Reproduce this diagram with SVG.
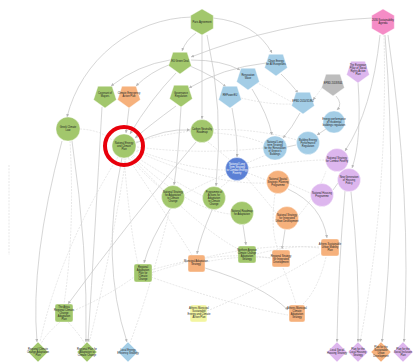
<svg xmlns="http://www.w3.org/2000/svg" width="414" height="364" viewBox="0 0 414 364">
<defs>
<style>
.g{fill:#a2c76c}.o{fill:#f6b17c}.b{fill:#a3cde6}.db{fill:#5b80d5}.p{fill:#ddb6ee}.pk{fill:#f58cc6}.gr{fill:#bdbdbd}.y{fill:#f3f5a0}
.node>circle,.node>polygon,.node>rect{stroke:#fff;stroke-width:.4}
.t{font-family:"Liberation Sans",Arial,sans-serif;font-size:2.6px;fill:#222;text-anchor:middle}
.w{fill:#fff}
.e{fill:none;stroke:#c4c4c4;stroke-width:.7}
.d{fill:none;stroke:#d6d6d6;stroke-width:.6;stroke-dasharray:2 1.2}
</style>
<marker id="a" viewBox="0 0 4 4" refX="4" refY="2" markerWidth="3" markerHeight="3" orient="auto" markerUnits="userSpaceOnUse"><path d="M0,0 L4,2 L0,4 z" fill="#b5b5b5"/></marker>
</defs>
<rect width="414" height="364" fill="#fff"/>
<g id="connectors">
<path class="d" d="M9,165 L9,255"/>
<path class="e" marker-end="url(#a)" d="M192,17 A132,132 0 0 0 67,117"/>
<path class="e" marker-end="url(#a)" d="M196,33 Q186,40 182,51"/>
<path class="e" marker-end="url(#a)" d="M213,18 Q255,22 272,53"/>
<path class="e" marker-end="url(#a)" d="M202,35 L202,119"/>
<path class="e" marker-end="url(#a)" d="M207,35 Q224,110 216,186"/>
<path class="e" marker-end="url(#a)" d="M372,18 Q280,22 191,57"/>
<path class="e" marker-end="url(#a)" d="M380,35 Q372,110 345,151"/>
<path class="e" marker-end="url(#a)" d="M385,35 Q398,200 382,342"/>
<path class="e" marker-end="url(#a)" d="M388,35 Q412,200 404,342"/>
<path class="d" marker-end="url(#a)" d="M384,35 Q388,200 360,342"/>
<path class="e" marker-end="url(#a)" d="M170,60 Q138,65 111,86"/>
<path class="e" marker-end="url(#a)" d="M171,64 Q150,72 136,86"/>
<path class="e" marker-end="url(#a)" d="M191,60 Q222,60 240,70"/>
<path class="e" marker-end="url(#a)" d="M190,66 Q214,76 226,87"/>
<path class="e" marker-end="url(#a)" d="M176,73 Q150,100 130,134"/>
<path class="e" marker-end="url(#a)" d="M266,63 Q222,68 189,88"/>
<path class="e" marker-end="url(#a)" d="M281,74 Q293,86 298,93"/>
<path class="d" marker-end="url(#a)" d="M322,88 Q316,96 313,100"/>
<path class="e" marker-end="url(#a)" d="M336,96 Q343,104 337,110"/>
<path class="e" marker-end="url(#a)" d="M300,113 Q292,128 283,138"/>
<path class="e" marker-end="url(#a)" d="M358,82 Q362,140 352,168"/>
<path class="e" marker-end="url(#a)" d="M62,141 Q30,260 37,342"/>
<path class="e" marker-end="url(#a)" d="M72,141 Q88,250 86,342"/>
<path class="e" marker-end="url(#a)" d="M122,158 Q100,260 127,342"/>
<path class="e" marker-end="url(#a)" d="M102,107 Q95,230 88,342"/>
<path class="e" marker-end="url(#a)" d="M129,108 L126,133"/>
<path class="e" marker-end="url(#a)" d="M196,142 Q130,220 68,304"/>
<path class="e" d="M287,147 L296,145"/>
<path class="e" marker-end="url(#a)" d="M326,129 L317,135"/>
<path class="e" d="M338,183 L333,190"/>
<path class="e" d="M344,170 L345,171"/>
<path class="e" marker-end="url(#a)" d="M345,191 Q338,270 337,342"/>
<path class="e" marker-end="url(#a)" d="M351,192 Q360,270 358,342"/>
<path class="e" marker-end="url(#a)" d="M288,189 Q322,205 327,238"/>
<path class="e" marker-end="url(#a)" d="M285,230 L282,249"/>
<path class="e" marker-end="url(#a)" d="M205,268 Q262,285 288,310"/>
<path class="e" marker-end="url(#a)" d="M170,209 Q150,240 144,263"/>
<path class="e" marker-end="url(#a)" d="M212,210 Q200,238 197,254"/>
<path class="e" marker-end="url(#a)" d="M243,225 L246,245"/>
<path class="e" marker-end="url(#a)" d="M176,106 Q150,125 135,138"/>
<path class="e" marker-end="url(#a)" d="M181,107 Q178,160 174,185"/>
<path class="e" marker-end="url(#a)" d="M232,108 Q238,140 237,157"/>
<path class="e" marker-end="url(#a)" d="M252,89 Q268,115 272,135"/>
<path class="e" marker-end="url(#a)" d="M136,143 Q165,128 190,130"/>
<path class="d" d="M80,129 Q100,130 112,140"/>
<path class="d" d="M137,147 Q200,155 263,148"/>
<path class="d" d="M136,142 Q220,118 297,140"/>
<path class="d" d="M137,150 Q190,170 225,170"/>
<path class="d" d="M136,151 Q210,185 266,183"/>
<path class="d" d="M128,157 Q150,180 163,190"/>
<path class="d" d="M133,155 Q180,185 203,196"/>
<path class="d" d="M132,156 Q190,210 230,214"/>
<path class="d" d="M124,158 Q130,230 138,264"/>
<path class="d" d="M128,158 Q170,220 192,255"/>
<path class="d" d="M131,157 Q200,230 240,250"/>
<path class="d" d="M118,157 Q60,250 40,342"/>
<path class="d" d="M126,158 Q110,260 89,343"/>
<path class="d" d="M249,168 Q300,160 325,160"/>
<path class="d" d="M247,163 L266,155"/>
<path class="d" d="M248,173 L266,180"/>
<path class="d" d="M226,174 Q200,185 185,194"/>
<path class="d" d="M230,180 L220,188"/>
<path class="d" d="M208,142 L230,160"/>
<path class="d" d="M214,133 Q245,135 263,143"/>
<path class="d" d="M256,82 Q280,96 292,102"/>
<path class="d" d="M241,98 Q270,105 292,104"/>
<path class="d" d="M326,257 Q318,290 303,304"/>
<path class="d" d="M283,268 Q292,290 296,304"/>
<path class="d" d="M151,277 Q230,305 288,315"/>
<path class="d" d="M151,270 Q220,250 271,258"/>
<path class="d" d="M151,273 Q250,240 319,248"/>
<path class="d" d="M207,311 Q280,280 321,253"/>
<path class="d" d="M73,311 Q110,295 134,277"/>
<path class="d" d="M60,322 Q45,335 41,344"/>
<path class="d" d="M68,322 Q80,335 85,344"/>
<path class="d" d="M170,209 Q150,290 130,343"/>
<path class="d" d="M290,184 L310,193"/>
<path class="d" d="M246,177 Q270,205 276,213"/>
<path class="d" d="M257,254 Q290,245 319,247"/>
<path class="d" d="M70,141 Q75,230 64,304"/>
<path class="d" d="M205,262 Q240,255 271,258"/>
<path class="d" d="M299,215 Q320,190 326,171"/>
<path class="d" d="M275,194 Q270,230 278,249"/>
</g>
<g id="n-paris" class="node"><polygon class="g" points="202,9 213.3,15.5 213.3,28.5 202,35 190.7,28.5 190.7,15.5"/><text class="t"><tspan x="202" y="22.9">Paris Agreement</tspan></text></g>
<g id="n-agenda" class="node"><polygon class="pk" points="383,9 394.3,15.5 394.3,28.5 383,35 371.7,28.5 371.7,15.5"/><text class="t"><tspan x="383" y="21.4">2030 Sustainability</tspan><tspan x="383" y="24.4">Agenda</tspan></text></g>
<g id="n-egd" class="node"><polygon class="g" points="172.95,52.3 187.05,52.3 191.4,65.7 180,74 168.6,65.7"/><text class="t"><tspan x="180" y="61.9">EU Green Deal</tspan></text></g>
<g id="n-com" class="node"><polygon class="g" points="97.95,86.3 112.05,86.3 116.4,99.7 105,108 93.6,99.7"/><text class="t"><tspan x="105" y="94.4">Covenant of</tspan><tspan x="105" y="97.4">Mayors</tspan></text></g>
<g id="n-ceap" class="node"><polygon class="o" points="121.95,86.3 136.05,86.3 140.4,99.7 129,108 117.6,99.7"/><text class="t"><tspan x="129" y="94.4">Climate Emergency</tspan><tspan x="129" y="97.4">Action Plan</tspan></text></g>
<g id="n-gov" class="node"><polygon class="g" points="173.95,85.3 188.05,85.3 192.4,98.7 181,107 169.6,98.7"/><text class="t"><tspan x="181" y="94.4">Governance</tspan><tspan x="181" y="97.4">Regulation</tspan></text></g>
<g id="n-renov" class="node"><polygon class="b" points="240.95,68.3 255.05,68.3 259.4,81.7 248,90 236.6,81.7"/><text class="t"><tspan x="248" y="76.4">Renovation</tspan><tspan x="248" y="79.4">Wave</tspan></text></g>
<g id="n-repower" class="node"><polygon class="b" points="222.95,86.3 237.05,86.3 241.4,99.7 230,108 218.6,99.7"/><text class="t"><tspan x="230" y="95.9">REPowerEU</tspan></text></g>
<g id="n-clean" class="node"><polygon class="b" points="268.95,54.3 283.05,54.3 287.4,67.7 276,76 264.6,67.7"/><text class="t"><tspan x="276" y="62.4">Clean Energy</tspan><tspan x="276" y="65.4">for All Europeans</tspan></text></g>
<g id="n-epbd18" class="node"><polygon class="gr" points="325.95,74.3 340.05,74.3 344.4,87.7 333,96 321.6,87.7"/><text class="t"><tspan x="333" y="83.9">EPBD 2018/844</tspan></text></g>
<g id="n-epbd10" class="node"><polygon class="b" points="295.95,92.3 310.05,92.3 314.4,105.7 303,114 291.6,105.7"/><text class="t"><tspan x="303" y="101.9">EPBD 2010/31/EU</tspan></text></g>
<g id="n-pillar" class="node"><polygon class="p" points="350.95,61.3 365.05,61.3 369.4,74.7 358,83 346.6,74.7"/><text class="t"><tspan x="358" y="66.4">The European</tspan><tspan x="358" y="69.4">Pillar of Social</tspan><tspan x="358" y="72.4">Rights Action</tspan><tspan x="358" y="75.4">Plan</tspan></text></g>
<g id="n-gcl" class="node"><circle class="g" cx="68" cy="129" r="12"/><text class="t"><tspan x="68" y="128.4">Greek Climate</tspan><tspan x="68" y="131.4">Law</tspan></text></g>
<g id="n-necp" class="node"><circle class="g" cx="124" cy="146" r="12"/><text class="t"><tspan x="124" y="143.9">National Energy</tspan><tspan x="124" y="146.9">and Climate</tspan><tspan x="124" y="149.9">Plan</tspan></text></g>
<g id="n-cnr" class="node"><circle class="g" cx="202" cy="131" r="11.5"/><text class="t"><tspan x="202" y="130.4">Carbon Neutrality</tspan><tspan x="202" y="133.4">Roadmap</tspan></text></g>
<g id="n-ltrs" class="node"><circle class="b" cx="275" cy="148" r="12"/><text class="t"><tspan x="275" y="142.9">National Long</tspan><tspan x="275" y="145.9">term Strategy</tspan><tspan x="275" y="148.9">for the Renovation</tspan><tspan x="275" y="151.9">of Greece's</tspan><tspan x="275" y="154.9">Buildings</tspan></text></g>
<g id="n-bepr" class="node"><circle class="b" cx="308" cy="143" r="11.5"/><text class="t"><tspan x="308" y="140.9">Building Energy</tspan><tspan x="308" y="143.9">Performance</tspan><tspan x="308" y="146.9">Regulation</tspan></text></g>
<g id="n-eprb" class="node"><circle class="b" cx="334" cy="122" r="11"/><text class="t"><tspan x="334" y="119.9">Energy performance</tspan><tspan x="334" y="122.9">of residential</tspan><tspan x="334" y="125.9">buildings regulation</tspan></text></g>
<g id="n-ltep" class="node"><circle class="db" cx="237" cy="169" r="11.5"/><text class="t w"><tspan x="237" y="165.4">National Long</tspan><tspan x="237" y="168.4">Term Strategy</tspan><tspan x="237" y="171.4">to Combat Energy</tspan><tspan x="237" y="174.4">Poverty</tspan></text></g>
<g id="n-nscp" class="node"><circle class="p" cx="337" cy="160" r="11.5"/><text class="t"><tspan x="337" y="159.4">National Strategy</tspan><tspan x="337" y="162.4">for Combat Poverty</tspan></text></g>
<g id="n-nghp" class="node"><circle class="p" cx="349" cy="180" r="11.5"/><text class="t"><tspan x="349" y="177.9">New Generation</tspan><tspan x="349" y="180.9">of Housing</tspan><tspan x="349" y="183.9">Policy</tspan></text></g>
<g id="n-nhp" class="node"><circle class="p" cx="322" cy="195" r="11.5"/><text class="t"><tspan x="322" y="194.4">National Housing</tspan><tspan x="322" y="197.4">Programme</tspan></text></g>
<g id="n-nssp" class="node"><circle class="o" cx="278" cy="182" r="11.5"/><text class="t"><tspan x="278" y="179.9">National Spatial</tspan><tspan x="278" y="182.9">Strategic Planning</tspan><tspan x="278" y="185.9">Programme</tspan></text></g>
<g id="n-nsiud" class="node"><circle class="o" cx="287" cy="218" r="11.5"/><text class="t"><tspan x="287" y="215.9">National Strategy</tspan><tspan x="287" y="218.9">for Integrated</tspan><tspan x="287" y="221.9">Urban Development</tspan></text></g>
<g id="n-nsacc" class="node"><circle class="g" cx="173" cy="197" r="11.5"/><text class="t"><tspan x="173" y="193.4">National Strategy</tspan><tspan x="173" y="196.4">for Adaptation</tspan><tspan x="173" y="199.4">to Climate</tspan><tspan x="173" y="202.4">Change</tspan></text></g>
<g id="n-paacc" class="node"><circle class="g" cx="214" cy="198" r="11.5"/><text class="t"><tspan x="214" y="192.9">Programme of</tspan><tspan x="214" y="195.9">Actions for</tspan><tspan x="214" y="198.9">Adaptation</tspan><tspan x="214" y="201.9">to Climate</tspan><tspan x="214" y="204.9">Change</tspan></text></g>
<g id="n-nra" class="node"><circle class="g" cx="242" cy="213" r="11.5"/><text class="t"><tspan x="242" y="212.4">National Roadmap</tspan><tspan x="242" y="215.4">for Adaptation</tspan></text></g>
<g id="n-rap" class="node"><rect class="g" x="134" y="264" width="18" height="18" rx="2"/><text class="t"><tspan x="143" y="267.9">Regional</tspan><tspan x="143" y="270.9">Adaptation</tspan><tspan x="143" y="273.9">Plan for</tspan><tspan x="143" y="276.9">Climate</tspan><tspan x="143" y="279.9">Change</tspan></text></g>
<g id="n-mas" class="node"><rect class="o" x="188" y="255" width="17" height="17" rx="2"/><text class="t"><tspan x="196" y="262.4">Municipal Adaptation</tspan><tspan x="196" y="265.4">Strategy</tspan></text></g>
<g id="n-nacc" class="node"><rect class="g" x="238" y="246" width="18" height="17" rx="2"/><text class="t"><tspan x="247" y="251.4">Northern Aegean</tspan><tspan x="247" y="254.4">Climate Change</tspan><tspan x="247" y="257.4">Adaptation</tspan><tspan x="247" y="260.4">Strategy</tspan></text></g>
<g id="n-rsid" class="node"><rect class="o" x="272" y="250" width="18" height="17" rx="2"/><text class="t"><tspan x="281" y="256.9">Regional Strategy</tspan><tspan x="281" y="259.9">for Integrated</tspan><tspan x="281" y="262.9">Development</tspan></text></g>
<g id="n-sump" class="node"><rect class="o" x="321" y="239" width="18" height="17" rx="2"/><text class="t"><tspan x="330" y="244.9">Athens Sustainable</tspan><tspan x="330" y="247.9">Urban Mobility</tspan><tspan x="330" y="250.9">Plan</tspan></text></g>
<g id="n-amcas" class="node"><rect class="o" x="289" y="305" width="16" height="17" rx="2"/><text class="t"><tspan x="297" y="309.4">Athens Municipal</tspan><tspan x="297" y="312.4">Climate</tspan><tspan x="297" y="315.4">Adaptation</tspan><tspan x="297" y="318.4">Strategy</tspan></text></g>
<g id="n-secap" class="node"><rect class="y" x="190" y="305" width="17" height="17" rx="2"/><text class="t"><tspan x="199" y="309.4">Athens Municipal</tspan><tspan x="199" y="312.4">Sustainable</tspan><tspan x="199" y="315.4">Energy and Climate</tspan><tspan x="199" y="318.4">Action Plan</tspan></text></g>
<g id="n-attica" class="node"><rect class="g" x="55" y="304" width="18" height="18" rx="2"/><text class="t"><tspan x="64" y="307.9">The Attica</tspan><tspan x="64" y="310.9">Regional Climate</tspan><tspan x="64" y="313.9">Change</tspan><tspan x="64" y="316.9">Adaptation</tspan><tspan x="64" y="319.9">Plan</tspan></text></g>
<g id="n-d1" class="node"><polygon class="g" points="38,342 48,352 38,362 28,352"/><text class="t"><tspan x="38" y="349.9">Regional Climate</tspan><tspan x="38" y="352.9">Change Adaptation</tspan><tspan x="38" y="355.9">Plan</tspan></text></g>
<g id="n-d2" class="node"><polygon class="g" points="87,342 97,352 87,362 77,352"/><text class="t"><tspan x="87" y="349.9">Regional Plan for</tspan><tspan x="87" y="352.9">Adaptation to</tspan><tspan x="87" y="355.9">Climate Change</tspan></text></g>
<g id="n-d3" class="node"><polygon class="b" points="128,342 138,352 128,362 118,352"/><text class="t"><tspan x="128" y="351.4">Local Energy</tspan><tspan x="128" y="354.4">Efficiency Strategy</tspan></text></g>
<g id="n-d4" class="node"><polygon class="p" points="337,342 347,352 337,362 327,352"/><text class="t"><tspan x="337" y="351.4">Local Social</tspan><tspan x="337" y="354.4">Housing Strategy</tspan></text></g>
<g id="n-d5" class="node"><polygon class="p" points="358,342 368,352 358,362 348,352"/><text class="t"><tspan x="358" y="349.9">Plan for the</tspan><tspan x="358" y="352.9">Local Housing</tspan><tspan x="358" y="355.9">Strategy</tspan></text></g>
<g id="n-d6" class="node"><polygon class="o" points="381,342 391,352 381,362 371,352"/><text class="t"><tspan x="381" y="348.4">Plan for the</tspan><tspan x="381" y="351.4">Sustainable</tspan><tspan x="381" y="354.4">Urban</tspan><tspan x="381" y="357.4">Development</tspan></text></g>
<g id="n-d7" class="node"><polygon class="p" points="403,342 413,352 403,362 393,352"/><text class="t"><tspan x="403" y="349.9">Plan for the</tspan><tspan x="403" y="352.9">Social Inclusion</tspan><tspan x="403" y="355.9">Plan</tspan></text></g>
<g id="highlight"><circle cx="124" cy="146" r="19" fill="none" stroke="#e8000b" stroke-width="4"/></g>
</svg>
